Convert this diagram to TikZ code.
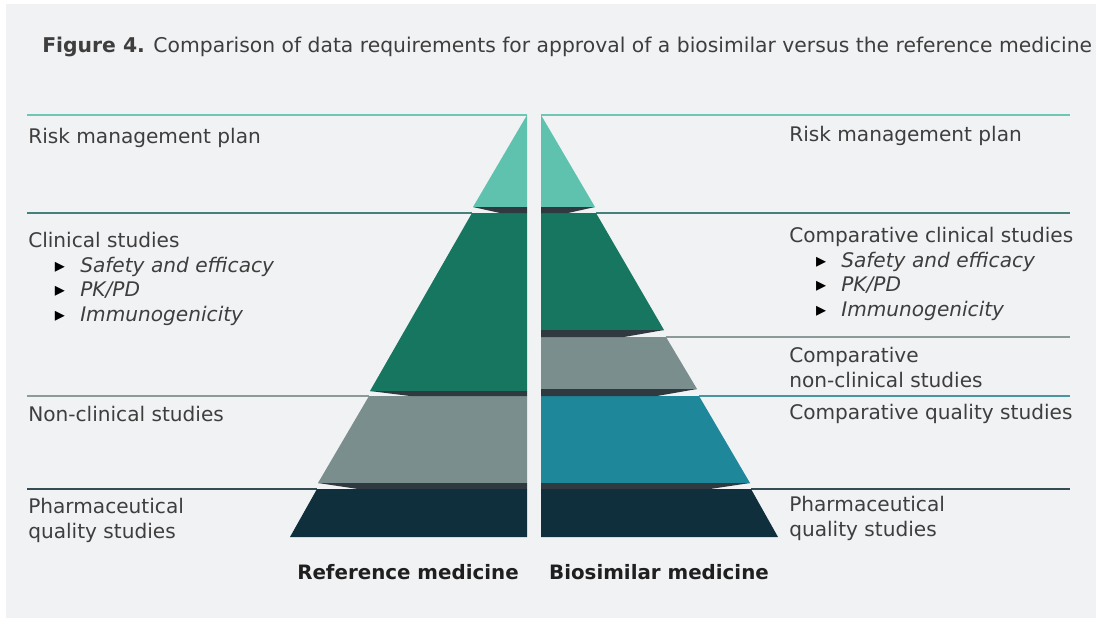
\documentclass[tikz,border=0pt]{standalone}
\usepackage{fontspec}
\setmainfont{DejaVu Sans}
\usetikzlibrary{positioning}
\definecolor{panelGray}{RGB}{241,242,244}
\definecolor{riskTeal}{RGB}{95,194,174}
\definecolor{clinGreen}{RGB}{23,118,96}
\definecolor{stoneGray}{RGB}{123,142,142}
\definecolor{qualTeal}{RGB}{31,135,154}
\definecolor{navyDark}{RGB}{14,47,59}
\definecolor{shadeDark}{RGB}{46,58,64}
\definecolor{ruleTeal}{RGB}{110,198,182}
\definecolor{ruleGreen}{RGB}{70,128,122}
\definecolor{ruleGray}{RGB}{140,154,154}
\definecolor{ruleBlue}{RGB}{72,150,162}
\definecolor{ruleNavy}{RGB}{52,76,84}
\definecolor{textGray}{RGB}{62,62,62}
\tikzset{
  pyr/rule/.style={line width=1.5pt},
  pyr/shadow/.style={fill=shadeDark},
  pyr/title/.style={anchor=base west, inner sep=0pt,
    font=\fontsize{14.45}{17}\selectfont\color{textGray}},
  pyr/lbl/.style={anchor=base west, inner sep=0pt, align=left,
    font=\fontsize{14.3}{17.4}\selectfont\color{textGray}},
  pyr/name/.style={anchor=base, inner sep=0pt,
    font=\fontsize{14.1}{17}\selectfont\bfseries\color{black!88}}
}
\newcommand{\itm}[1]{\hspace*{19pt}\makebox[18pt][l]{\color{black}▸}\textit{#1}}

\begin{document}
\begin{tikzpicture}[x=0.025cm, y=-0.025cm]
  \useasboundingbox (0,0) rectangle (1096,626);
  \fill[white] (0,0) rectangle (1096,626);
  \fill[panelGray] (6,4) rectangle (1096,618);

  \node[pyr/title] (title) at (42,52) {\textbf{Figure 4.} Comparison of data
        requirements for approval of a biosimilar versus the reference medicine};

  % guide rules, reference side
  \draw[pyr/rule, draw=ruleTeal]  (27,115) -- (527,115);
  \draw[pyr/rule, draw=ruleGreen] (27,213) -- (472,213);
  \draw[pyr/rule, draw=ruleGray]  (27,396) -- (369,396);
  \draw[pyr/rule, draw=ruleNavy]  (27,489) -- (317,489);
  % guide rules, biosimilar side
  \draw[pyr/rule, draw=ruleTeal]  (541,115) -- (1070,115);
  \draw[pyr/rule, draw=ruleGreen] (596,213) -- (1070,213);
  \draw[pyr/rule, draw=ruleGray]  (666,337) -- (1070,337);
  \draw[pyr/rule, draw=ruleBlue]  (699,396) -- (1070,396);
  \draw[pyr/rule, draw=ruleNavy]  (751,489) -- (1070,489);

  % reference pyramid
  \fill[riskTeal]  (527,115) -- (527,207) -- (473,207) -- cycle;
  \fill[clinGreen] (527,213) -- (472,213) -- (370,391) -- (527,391) -- cycle;
  \fill[stoneGray] (527,396) -- (369,396) -- (318,483) -- (527,483) -- cycle;
  \fill[navyDark]  (527,489) -- (317,489) -- (290,537) -- (527,537) -- cycle;
  \fill[pyr/shadow] (473,207) -- (527,207) -- (527,213) -- (500,213) -- cycle;
  \fill[pyr/shadow] (370,391) -- (527,391) -- (527,396) -- (410,396) -- cycle;
  \fill[pyr/shadow] (318,483) -- (527,483) -- (527,489) -- (358,489) -- cycle;

  % biosimilar pyramid
  \fill[riskTeal]  (541,115) -- (541,207) -- (595,207) -- cycle;
  \fill[clinGreen] (541,213) -- (596,213) -- (664,330) -- (541,330) -- cycle;
  \fill[stoneGray] (541,337) -- (666,337) -- (697,389) -- (541,389) -- cycle;
  \fill[qualTeal]  (541,396) -- (699,396) -- (750,483) -- (541,483) -- cycle;
  \fill[navyDark]  (541,489) -- (751,489) -- (778,537) -- (541,537) -- cycle;
  \fill[pyr/shadow] (595,207) -- (541,207) -- (541,213) -- (568,213) -- cycle;
  \fill[pyr/shadow] (664,330) -- (541,330) -- (541,337) -- (624,337) -- cycle;
  \fill[pyr/shadow] (697,389) -- (541,389) -- (541,396) -- (657,396) -- cycle;
  \fill[pyr/shadow] (750,483) -- (541,483) -- (541,489) -- (710,489) -- cycle;

  % labels are anchored on the baseline of their last line
  \node[pyr/lbl] (refRisk) at (28,143) {Risk management plan};
  \node[pyr/lbl] (refClin) at (28,321) {Clinical studies\\
        \itm{Safety and efficacy}\\\itm{PK/PD}\\\itm{Immunogenicity}};
  \node[pyr/lbl] (refNon) at (28,421) {Non-clinical studies};
  \node[pyr/lbl] (refPharm) at (28,538) {Pharmaceutical\\quality studies};

  \node[pyr/lbl] (bioRisk) at (789,141) {Risk management plan};
  \node[pyr/lbl] (bioClin) at (789,316) {Comparative clinical studies\\
        \itm{Safety and efficacy}\\\itm{PK/PD}\\\itm{Immunogenicity}};
  \node[pyr/lbl] (bioNon) at (789,387) {Comparative\\non-clinical studies};
  \node[pyr/lbl] (bioQual) at (789,419) {Comparative quality studies};
  \node[pyr/lbl] (bioPharm) at (789,536) {Pharmaceutical\\quality studies};

  \node[pyr/name] (refName) at (408,579) {Reference medicine};
  \node[pyr/name] (bioName) at (659,579) {Biosimilar medicine};
\end{tikzpicture}
\end{document}
